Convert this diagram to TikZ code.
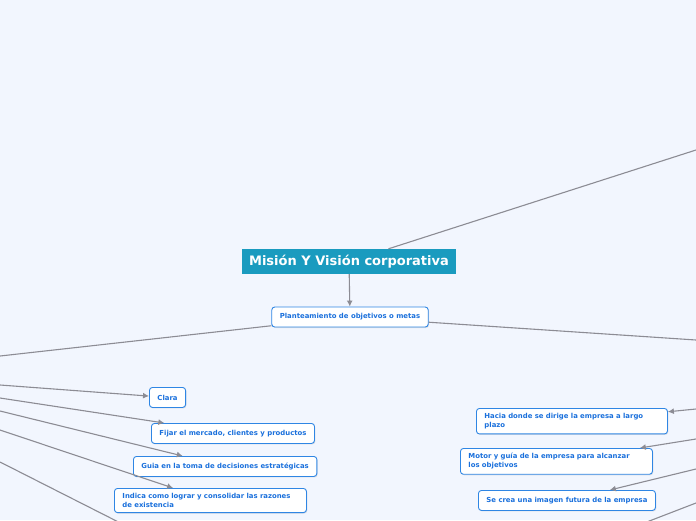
\documentclass[tikz,border=0pt]{standalone}
\usepackage{fontspec}
\setmainfont{DejaVu Sans}
\usepackage{tikz}
\usetikzlibrary{positioning,arrows.meta,shadows}

\definecolor{bgblue}{HTML}{F2F6FE}
\definecolor{mainteal}{HTML}{1A9BBF}
\definecolor{boxblue}{HTML}{2F86E4}
\definecolor{textblue}{HTML}{1A70DC}
\definecolor{linegray}{HTML}{8C8C94}

\begin{document}
\begin{tikzpicture}[x=1pt,y=-1pt,
  link/.style={draw=linegray, line width=1.1pt},
  arr/.style={link, -{Latex[length=6pt,width=6pt]}},
  topic/.style={fill=mainteal, text=white, font=\bfseries\fontsize{13}{15}\selectfont,
    minimum width=214pt, minimum height=25pt},
  leaf/.style={draw=boxblue, fill=white, rounded corners=3pt, line width=0.9pt,
    text=textblue, font=\bfseries\fontsize{6.9}{8.8}\selectfont, align=left,
    inner xsep=8pt, inner ysep=5pt, minimum height=20pt,
    drop shadow={opacity=0.2, shadow xshift=0.8pt, shadow yshift=-1pt}}]
\fill[bgblue] (0,0) rectangle (696,520);
\clip (0,0) rectangle (696,520);

% centre and first level
\node[topic] (mision) at (349,261.5) {Misión Y Visión corporativa};
\node[leaf] (plan) at (350,317) {Planteamiento de objetivos o metas};

% left leaves
\node[leaf, anchor=north west] (clara) at (149,387) {Clara};
\node[leaf, anchor=north west] (fijar) at (151,423) {Fijar el mercado, clientes y productos};
\node[leaf, anchor=north west] (guia) at (133,456) {Guia en la toma de decisiones estratégicas};
\node[leaf, anchor=north west, text width=176pt] (indica) at (114,488)
  {Indica como lograr y consolidar las razones\\de existencia};

% right leaves
\node[leaf, anchor=north west, text width=175pt] (hacia) at (476,408)
  {Hacia donde se dirige la empresa a largo\\plazo};
\node[leaf, anchor=north west, text width=176pt] (motor) at (460,448)
  {Motor y guía de la empresa para alcanzar\\los objetivos};
\node[leaf, anchor=north west] (imagen) at (478,490) {Se crea una imagen futura de la empresa};

% free ends outside the frame
\coordinate (upR) at (696,150);
\coordinate (planL) at (0,356);
\coordinate (planR) at (696,340);
\coordinate (l1) at (0,385);
\coordinate (l2) at (0,398);
\coordinate (l3) at (0,411);
\coordinate (l4) at (0,430);
\coordinate (l5) at (0,462);
\coordinate (l5end) at (150,538);
\coordinate (r1) at (696,409);
\coordinate (r2) at (696,439);
\coordinate (r3) at (696,469);
\coordinate (r4) at (696,503);
\coordinate (r4end) at (600,540);

\draw[link] (mision) -- (upR);
\draw[arr] (mision) -- (plan);
\draw[link] (plan) -- (planL);
\draw[link] (plan) -- (planR);

\draw[arr] (l1) -- (clara);
\draw[arr] (l2) -- (fijar);
\draw[arr] (l3) -- (guia);
\draw[arr] (l4) -- (indica);
\draw[link] (l5) -- (l5end);

\draw[arr] (r1) -- (hacia);
\draw[arr] (r2) -- (motor);
\draw[arr] (r3) -- (imagen);
\draw[link] (r4) -- (r4end);
\end{tikzpicture}
\end{document}
